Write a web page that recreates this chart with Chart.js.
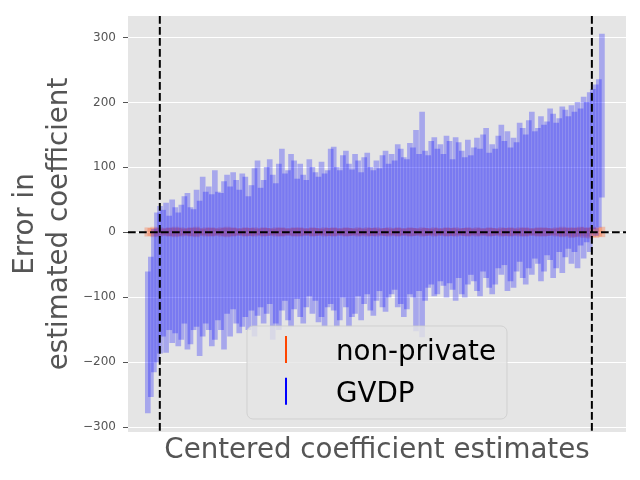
<!DOCTYPE html>
<html>
<head>
<meta charset="utf-8">
<script src="https://cdn.jsdelivr.net/npm/chart.js@4.4.1/dist/chart.umd.min.js"></script>
<style>
  html, body { margin: 0; padding: 0; background: #fff; }
</style>
</head>
<body>
<canvas id="errChart" width="640" height="480"></canvas>
<script>
// error of each sorted coefficient (one bar per estimate)
const gvdpLow = [
  -278, -253, -215, -200, -186, -160, -185, -150, -170, -155,
  -175, -165, -140, -180, -172, -150, -145, -190, -160, -140,
  -150, -175, -165, -135, -150, -180, -125, -160, -118, -140,
  -155, -145, -130, -150, -120, -160, -128, -115, -140, -125,
  -110, -165, -140, -150, -120, -105, -135, -145, -118, -102,
  -130, -140, -115, -98, -125, -105, -138, -130, -145, -115,
  -110, -120, -145, -135, -100, -115, -145, -130, -125, -98,
  -135, -110, -95, -120, -128, -105, -90, -115, -122, -100,
  -95, -88, -115, -110, -130, -118, -95, -100, -152, -90,
  -161, -105, -85, -80, -98, -95, -75, -82, -100, -78,
  -88, -105, -70, -95, -100, -80, -65, -75, -90, -98,
  -60, -70, -85, -95, -80, -55, -65, -50, -90, -75,
  -85, -60, -45, -70, -80, -55, -65, -40, -48, -75,
  -60, -35, -42, -70, -55, -30, -62, -38, -25, -48,
  -30, -55, -20, -40, -15, -30, 5, -5, 8, 54
];
const gvdpHigh = [
  -61, -38, 5, 30, 40, 34, 45, 25, 50, 38,
  30, 42, 55, 60, 38, 35, 65, 48, 85, 62,
  70, 58, 95, 62, 60, 78, 88, 70, 92, 80,
  65, 90, 85, 55, 72, 98, 110, 68, 80, 100,
  112, 88, 75, 105, 128, 90, 95, 120, 110, 82,
  105, 88, 80, 112, 100, 92, 85, 108, 90, 95,
  128, 131, 100, 95, 118, 125, 105, 96, 120, 110,
  92, 115, 122, 100, 95, 110, 98, 118, 125, 105,
  120, 110, 135, 128, 115, 112, 137, 130, 157, 120,
  185, 125, 118, 140, 146, 128, 135, 120, 148, 140,
  112, 146, 138, 125, 115, 142, 118, 130, 145, 128,
  150, 160, 122, 135, 128, 148, 165, 140, 155, 130,
  145, 138, 168, 160, 150, 172, 185, 155, 160, 178,
  165, 170, 190, 182, 168, 175, 193, 188, 178, 195,
  185, 200, 190, 208, 200, 215, 220, 227, 235, 305
];
const nonPrivLow = [
  -6, -5, -7, -5, -6, -4, -5, -6, -5, -7,
  -5, -6, -4, -5, -6, -5, -7, -5, -4, -6,
  -5, -6, -5, -4, -6, -5, -7, -5, -6, -5,
  -4, -5, -6, -5, -5, -6, -4, -5, -6, -5,
  -5, -4, -6, -5, -6, -5, -4, -5, -6, -5,
  -6, -5, -4, -5, -6, -5, -5, -4, -6, -5,
  -5, -6, -5, -4, -5, -6, -5, -5, -4, -6,
  -5, -4, -6, -5, -5, -6, -4, -5, -5, -6,
  -4, -5, -6, -5, -4, -5, -6, -5, -5, -4,
  -6, -5, -5, -4, -6, -5, -4, -5, -6, -5,
  -5, -6, -4, -5, -5, -6, -5, -4, -6, -5,
  -4, -5, -6, -5, -5, -4, -6, -5, -5, -6,
  -5, -4, -6, -5, -6, -5, -4, -5, -6, -5,
  -6, -5, -5, -4, -6, -5, -7, -5, -6, -8,
  -6, -7, -5, -8, -6, -9, -7, -8, -6, -7
];
const nonPrivHigh = [
  7, 6, 8, 6, 7, 5, 6, 7, 6, 8,
  6, 7, 5, 6, 7, 6, 8, 6, 5, 7,
  6, 7, 6, 5, 7, 6, 8, 6, 7, 6,
  5, 6, 7, 6, 6, 7, 5, 6, 7, 6,
  6, 5, 7, 6, 7, 6, 5, 6, 7, 6,
  7, 6, 5, 6, 7, 6, 6, 5, 7, 6,
  6, 7, 6, 5, 6, 7, 6, 6, 5, 7,
  6, 5, 7, 6, 6, 7, 5, 6, 6, 7,
  5, 6, 7, 6, 5, 6, 7, 6, 6, 5,
  7, 6, 6, 5, 7, 6, 5, 6, 7, 6,
  6, 7, 5, 6, 6, 7, 6, 5, 7, 6,
  5, 6, 7, 6, 6, 5, 7, 6, 6, 7,
  6, 5, 7, 6, 7, 6, 5, 6, 7, 6,
  7, 6, 6, 5, 7, 6, 8, 6, 7, 6,
  7, 6, 8, 7, 6, 7, 8, 6, 7, 8
];
const seriesLabels = ['non-private', 'GVDP'];
const seriesColors = ['#FF4500', '#0000FF'];
const yTickValues = [-300, -200, -100, 0, 100, 200, 300];

// axis ranges and cut-off markers, in the index units of the sorted estimates
const xMin = -6.5, xMax = 156.9;
const yMin = -307.5, yMax = 333;
const cutLeft = 3.94, cutRight = 145.7;

const fontFamily = "'DejaVu Sans', sans-serif";

const plotBackground = {
  id: 'plotBackground',
  beforeDraw(chart) {
    const { ctx, chartArea: a } = chart;
    ctx.save();
    ctx.fillStyle = '#E5E5E5';
    ctx.fillRect(a.left, a.top, a.right - a.left, a.bottom - a.top);
    ctx.restore();
  }
};

const dashedMarkers = {
  id: 'dashedMarkers',
  afterDatasetsDraw(chart) {
    const { ctx, chartArea: a, scales } = chart;
    ctx.save();
    ctx.strokeStyle = '#000';
    ctx.lineWidth = 2;
    ctx.setLineDash([7.7, 3.3]);
    [cutLeft, cutRight].forEach(v => {
      const px = scales.x.getPixelForValue(v);
      ctx.beginPath();
      ctx.moveTo(px, a.top);
      ctx.lineTo(px, a.bottom);
      ctx.stroke();
    });
    const py = scales.y.getPixelForValue(0);
    ctx.beginPath();
    ctx.moveTo(a.left, py);
    ctx.lineTo(a.right, py);
    ctx.stroke();
    ctx.restore();
  }
};

// matplotlib-like legend box sitting in the lower middle of the plot
const boxLegend = {
  id: 'boxLegend',
  afterDraw(chart) {
    const { ctx, chartArea: a } = chart;
    const w = 260, h = 93;
    const x0 = (a.left + a.right) / 2 - w / 2;
    const y0 = a.bottom - 13 - h;
    ctx.save();
    ctx.beginPath();
    ctx.roundRect(x0, y0, w, h, 6);
    ctx.fillStyle = 'rgba(229,229,229,0.8)';
    ctx.fill();
    ctx.strokeStyle = 'rgba(204,204,204,0.8)';
    ctx.lineWidth = 1;
    ctx.stroke();
    ctx.font = '27.7px ' + fontFamily;
    ctx.textBaseline = 'alphabetic';
    ctx.textAlign = 'left';
    seriesLabels.forEach((label, i) => {
      const base = y0 + 34 + i * 41.7;
      ctx.strokeStyle = seriesColors[i];
      ctx.lineWidth = 2;
      ctx.beginPath();
      ctx.moveTo(x0 + 39, base - 24);
      ctx.lineTo(x0 + 39, base + 3);
      ctx.stroke();
      ctx.fillStyle = '#000';
      ctx.fillText(label, x0 + 89, base);
    });
    ctx.restore();
  }
};

const toPoints = (lows, highs) => lows.map((lo, i) => ({ x: i, y: [lo, highs[i]] }));

new Chart(document.getElementById('errChart'), {
  type: 'bar',
  data: {
    datasets: [
      {
        label: seriesLabels[0],
        data: toPoints(nonPrivLow, nonPrivHigh),
        backgroundColor: 'rgba(255,69,0,0.25)',
        barThickness: 6,
        grouped: false,
        order: 2
      },
      {
        label: seriesLabels[1],
        data: toPoints(gvdpLow, gvdpHigh),
        backgroundColor: 'rgba(0,0,255,0.27)',
        barThickness: 5,
        grouped: false,
        order: 1
      }
    ]
  },
  options: {
    responsive: false,
    animation: false,
    layout: { padding: { top: 16, right: 14, left: 0, bottom: 0 } },
    plugins: {
      legend: { display: false },
      tooltip: { enabled: false }
    },
    scales: {
      x: {
        type: 'linear',
        offset: false,
        min: xMin,
        max: xMax,
        ticks: { display: false },
        grid: { display: false },
        border: { display: false },
        afterFit: s => { s.height = 48; },
        title: {
          display: true,
          text: 'Centered coefficient estimates',
          color: '#555555',
          font: { family: fontFamily, size: 27.7, lineHeight: 1.2 },
          padding: { top: 0, bottom: 12.4 }
        }
      },
      y: {
        min: yMin,
        max: yMax,
        afterBuildTicks: s => { s.ticks = yTickValues.map(v => ({ value: v })); },
        afterFit: s => { s.width = 128; },
        grid: { color: '#FFFFFF', lineWidth: 1, tickColor: '#555555', tickLength: 5 },
        border: { display: false },
        ticks: {
          color: '#555555',
          font: { family: fontFamily, size: 12 },
          padding: 7,
          callback: v => String(v).replace('-', '\u2212')
        },
        title: {
          display: true,
          text: ['Error in', 'estimated coefficient'],
          color: '#555555',
          font: { family: fontFamily, size: 27.7, lineHeight: 1.2 },
          padding: { top: 9.5, bottom: 0 }
        }
      }
    }
  },
  plugins: [plotBackground, dashedMarkers, boxLegend]
});
</script>
</body>
</html>
